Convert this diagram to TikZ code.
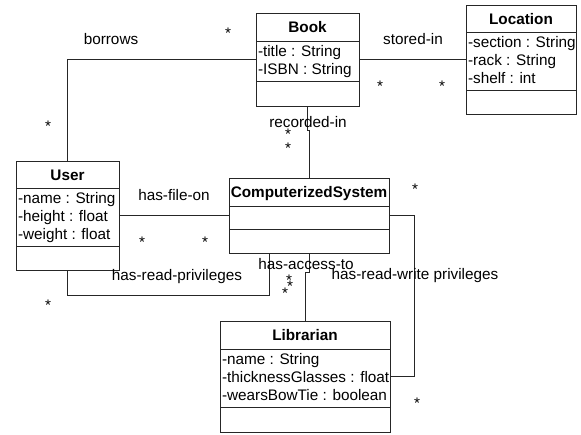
\documentclass[tikz,border=0pt]{standalone}
\usepackage{fontspec}
\setmainfont{Liberation Sans}

\tikzset{
  classbox/.style={
    draw=black!85, line width=0.8pt, fill=white,
    anchor=north west, inner sep=0pt, outer sep=0pt
  },
  classtitle/.style={
    font=\fontsize{15.3}{18}\selectfont\bfseries,
    inner sep=0pt, text height=11pt, text depth=0pt
  },
  attrlist/.style={
    font=\fontsize{15.3}{18}\selectfont,
    align=left, inner sep=0pt, anchor=north west
  },
  assoc/.style={draw=black!85, line width=0.8pt},
  rolelabel/.style={font=\fontsize{15.3}{18}\selectfont, inner sep=0pt, anchor=base},
  mult/.style={font=\fontsize{15.3}{18}\selectfont, inner sep=0pt, anchor=base},
}

\begin{document}
\begin{tikzpicture}[x=1pt, y=-1pt, every node/.style={outer sep=0pt}]

\useasboundingbox (0,0) rectangle (581,434);

%% Book
\node[classbox, minimum width=103pt, minimum height=93pt] (book) at (256,13) {};
\node[classtitle] (booktitle) at ([yshift=-14pt]book.north) {Book};
\draw[assoc] ([yshift=-28pt]book.north west) -- ([yshift=-28pt]book.north east);
\draw[assoc] ([yshift=-68pt]book.north west) -- ([yshift=-68pt]book.north east);
\node[attrlist] (bookattr) at ([xshift=2pt, yshift=-32.9pt]book.north west)
  {-title : String\\-ISBN : String};

%% Location
\node[classbox, minimum width=110pt, minimum height=109pt] (location) at (466,5) {};
\node[classtitle] (loctitle) at ([yshift=-13.5pt]location.north) {Location};
\draw[assoc] ([yshift=-27pt]location.north west) -- ([yshift=-27pt]location.north east);
\draw[assoc] ([yshift=-85pt]location.north west) -- ([yshift=-85pt]location.north east);
\node[attrlist] (locattr) at ([xshift=2pt, yshift=-31.9pt]location.north west)
  {-section : String\\-rack : String\\-shelf : int};

%% User
\node[classbox, minimum width=103pt, minimum height=109pt] (user) at (16,161) {};
\node[classtitle] (usertitle) at ([yshift=-13.5pt]user.north) {User};
\draw[assoc] ([yshift=-27pt]user.north west) -- ([yshift=-27pt]user.north east);
\draw[assoc] ([yshift=-85pt]user.north west) -- ([yshift=-85pt]user.north east);
\node[attrlist] (userattr) at ([xshift=2pt, yshift=-31.9pt]user.north west)
  {-name : String\\-height : float\\-weight : float};

%% ComputerizedSystem
\node[classbox, minimum width=160pt, minimum height=75pt] (cs) at (229,178) {};
\node[classtitle] (cstitle) at ([yshift=-14pt]cs.north) {ComputerizedSystem};
\draw[assoc] ([yshift=-28pt]cs.north west) -- ([yshift=-28pt]cs.north east);
\draw[assoc] ([yshift=-51pt]cs.north west) -- ([yshift=-51pt]cs.north east);

%% Librarian
\node[classbox, minimum width=170pt, minimum height=111pt] (librarian) at (220,321) {};
\node[classtitle] (libtitle) at ([yshift=-14pt]librarian.north) {Librarian};
\draw[assoc] ([yshift=-28pt]librarian.north west) -- ([yshift=-28pt]librarian.north east);
\draw[assoc] ([yshift=-86pt]librarian.north west) -- ([yshift=-86pt]librarian.north east);
\node[attrlist] (libattr) at ([xshift=2pt, yshift=-32.9pt]librarian.north west)
  {-name : String\\-thicknessGlasses : float\\-wearsBowTie : boolean};

%% Associations
\draw[assoc] (book.west) -| (user.north);
\draw[assoc] (book.east) -- (location.west);
\draw[assoc] (book.south) -- ++(0,24) -| (cs.north);
\draw[assoc] (user.east) -- (cs.west);
\draw[assoc] (user.south) -- ++(0,25) -| ([xshift=-40pt]cs.south);
\draw[assoc] (cs.south) -- ++(0,19) -| (librarian.north);
\draw[assoc] (cs.east) -- ++(25,0) |- (librarian.east);

%% Association names
\node[rolelabel] (lborrows) at (111,44) {borrows};
\node[rolelabel] (lstored) at (413,44) {stored-in};
\node[rolelabel] (lrecorded) at (308,127) {recorded-in};
\node[rolelabel] (lfile) at (174,200) {has-file-on};
\node[rolelabel] (lread) at (177,280) {has-read-privileges};
\node[rolelabel] (laccess) at (306,269) {has-access-to};
\node[rolelabel] (lreadwrite) at (415,279) {has-read-write privileges};

%% Multiplicities
\node[mult] (m1) at (228,38) {*};
\node[mult] (m2) at (48,131) {*};
\node[mult] (m3) at (380,91) {*};
\node[mult] (m4) at (442,91) {*};
\node[mult] (m5) at (288,139) {*};
\node[mult] (m6) at (288,153) {*};
\node[mult] (m7) at (142,247) {*};
\node[mult] (m8) at (205,247) {*};
\node[mult] (m9) at (48,310) {*};
\node[mult] (m10) at (289,285) {*};
\node[mult] (m11) at (290,291) {*};
\node[mult] (m12) at (285,298) {*};
\node[mult] (m13) at (415,194) {*};
\node[mult] (m14) at (417,408) {*};

\end{tikzpicture}
\end{document}
